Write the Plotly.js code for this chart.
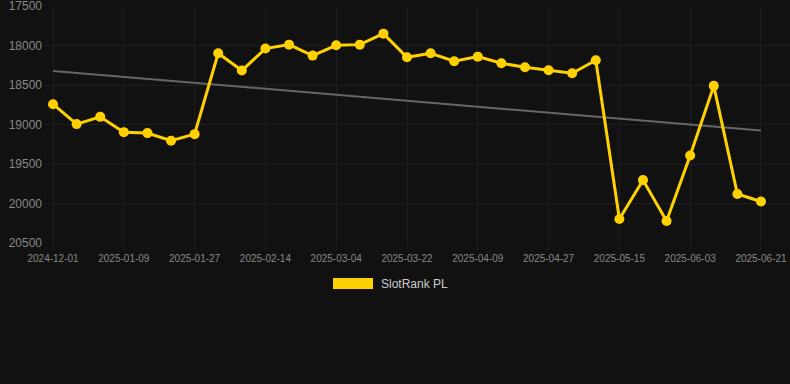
<!DOCTYPE html>
<html>
<head>
<meta charset="utf-8">
<script src="https://cdn.plot.ly/plotly-3.0.1.min.js"></script>
<style>
html,body{margin:0;padding:0;background:#111111;}
#chart{width:790px;height:384px;}
</style>
</head>
<body>
<div id="chart"></div>
<script>
const dates = [
  "2024-12-01","2024-12-15","2025-01-03","2025-01-09","2025-01-15","2025-01-21",
  "2025-01-27","2025-02-02","2025-02-08","2025-02-14","2025-02-20","2025-02-26",
  "2025-03-04","2025-03-10","2025-03-16","2025-03-22","2025-03-28","2025-04-03",
  "2025-04-09","2025-04-15","2025-04-21","2025-04-27","2025-05-03","2025-05-09",
  "2025-05-15","2025-05-21","2025-05-27","2025-06-03","2025-06-09","2025-06-15",
  "2025-06-21"
];
const rankValues = [
  18743,18995,18903,19097,19109,19206,
  19122,18098,18317,18039,17989,18128,
  17997,17989,17850,18149,18098,18199,
  18141,18225,18275,18313,18351,18187,
  20197,19704,20222,19392,18511,19880,
  19974
];
const trendX = ["2024-12-01","2025-06-21"];
const trendValues = [18322,19076];
const tickLabels = ["2024-12-01","2025-01-09","2025-01-27","2025-02-14","2025-03-04",
  "2025-03-22","2025-04-09","2025-04-27","2025-05-15","2025-06-03","2025-06-21"];
const yTicks = [17500,18000,18500,19000,19500,20000,20500];
const seriesName = "SlotRank PL";

const yellow = "#FFD100";
const traces = [
  {
    x: trendX, y: trendValues, type: "scatter", mode: "lines",
    line: {color: "#666666", width: 2}, showlegend: false, hoverinfo: "skip"
  },
  {
    x: dates, y: rankValues, type: "scatter", mode: "lines+markers", name: seriesName,
    line: {color: yellow, width: 3},
    marker: {color: yellow, size: 10},
    showlegend: false, cliponaxis: false
  }
];
const layout = {
  width: 790, height: 384,
  paper_bgcolor: "#111111", plot_bgcolor: "#111111",
  margin: {l: 45, r: 0, t: 6, b: 141},
  font: {family: "Liberation Sans, Arial, sans-serif", color: "#888888"},
  xaxis: {
    type: "category",
    categoryorder: "array", categoryarray: dates,
    range: [-0.34, 31.23],
    tickmode: "array", tickvals: tickLabels, ticktext: tickLabels,
    tickangle: 0,
    showgrid: true, gridcolor: "#1e1e1e", gridwidth: 1,
    zeroline: false, showline: false,
    ticks: "outside", ticklen: 6, tickcolor: "#1e1e1e",
    tickfont: {size: 10, color: "#888888"}
  },
  yaxis: {
    range: [20500, 17500],
    tickmode: "array", tickvals: yTicks, ticktext: yTicks.map(String),
    showgrid: true, gridcolor: "#1e1e1e", gridwidth: 1,
    zeroline: false, showline: false,
    ticks: "", ticklabelstandoff: 2, ticklabeloverflow: "allow",
    tickfont: {size: 12, color: "#888888"}
  },
  shapes: [
    {type: "rect", xref: "paper", yref: "paper",
     x0: (333-45)/745, x1: (373-45)/745,
     y0: (243-289)/237, y1: (243-278)/237,
     fillcolor: yellow, line: {width: 0}}
  ],
  annotations: [
    {xref: "paper", yref: "paper", x: (379-45)/745, y: (243-284)/237,
     xanchor: "left", yanchor: "middle", showarrow: false,
     text: seriesName, font: {size: 12, color: "#cccccc"}}
  ]
};
Plotly.newPlot("chart", traces, layout, {staticPlot: true, displayModeBar: false});
</script>
</body>
</html>
